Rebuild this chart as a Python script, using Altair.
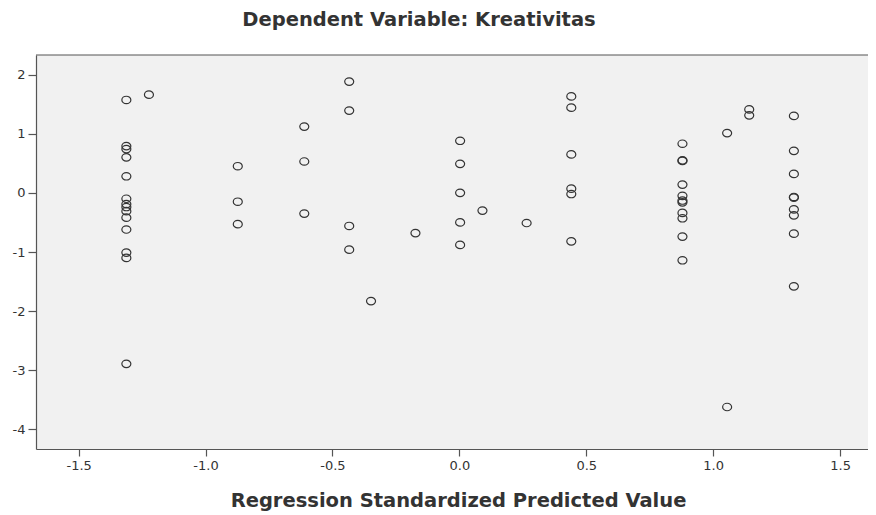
import altair as alt
import pandas as pd

# Regression standardized predicted values (x positions of the point columns)
pred_levels = [-1.312, -1.223, -0.873, -0.611, -0.434, -0.348, -0.173,
               0.003, 0.091, 0.265, 0.441, 0.879, 1.055, 1.142, 1.318]

# Regression studentized residuals found at each predicted value
resid_by_level = [
    [1.57, 0.79, 0.74, 0.60, 0.28, -0.10, -0.19, -0.24, -0.31, -0.42, -0.62, -1.01, -1.10, -2.89],
    [1.66],
    [0.45, -0.15, -0.53],
    [1.12, 0.53, -0.35],
    [1.88, 1.39, -0.56, -0.96],
    [-1.83],
    [-0.68],
    [0.88, 0.49, 0.00, -0.50, -0.88],
    [-0.30],
    [-0.51],
    [1.63, 1.44, 0.65, 0.07, -0.02, -0.82],
    [0.83, 0.55, 0.54, 0.14, -0.05, -0.13, -0.16, -0.34, -0.43, -0.74, -1.14],
    [1.01, -3.62],
    [1.41, 1.31],
    [1.30, 0.71, 0.32, -0.07, -0.08, -0.28, -0.38, -0.69, -1.58],
]

x_ticks = [-1.5, -1.0, -0.5, 0.0, 0.5, 1.0, 1.5]
y_ticks = [-4, -3, -2, -1, 0, 1, 2]

title_text = "Dependent Variable: Kreativitas"
x_title = "Regression Standardized Predicted Value"

rows = []
for p, rs in zip(pred_levels, resid_by_level):
    for r in rs:
        rows.append({"pred": p, "resid": r})
df = pd.DataFrame(rows)

FONT = "DejaVu Sans"
AX = "#555555"
TXT = "#333333"
W, H = 832, 394
ELLIPSE = "M -1 0 A 1 0.83 0 1 0 1 0 A 1 0.83 0 1 0 -1 0 Z"

fix_minus = "replace(datum.label, '\u2212', '-')"

points = alt.Chart(df).mark_point(
    shape=ELLIPSE, size=81, filled=False, color="#333333", strokeWidth=1.2, opacity=1
).encode(
    x=alt.X(
        "pred:Q",
        scale=alt.Scale(domain=[-1.668, 1.610], nice=False, zero=False),
        axis=alt.Axis(
            values=x_ticks, format=".1f", labelExpr=fix_minus,
            tickSize=7, tickColor=AX, tickWidth=1.2,
            domainColor=AX, domainWidth=1.2, grid=False,
            labelFont=FONT, labelFontSize=13, labelColor=TXT, labelPadding=3,
            title=x_title, titleFont=FONT, titleFontSize=19.5, titleFontWeight="bold",
            titleColor=TXT, titleBaseline="alphabetic", titleAlign="center",
            titleX=422, titleY=57,
        ),
    ),
    y=alt.Y(
        "resid:Q",
        scale=alt.Scale(domain=[-4.33, 2.33], nice=False, zero=False),
        axis=alt.Axis(
            values=y_ticks, format="d", labelExpr=fix_minus,
            tickSize=8, tickColor=AX, tickWidth=1.2,
            domainColor=AX, domainWidth=1.2, grid=False,
            labelFont=FONT, labelFontSize=13, labelColor=TXT, labelPadding=3,
            title="",
        ),
    ),
)

top_border = alt.Chart(pd.DataFrame({"k": [0]})).mark_rule(
    color=AX, strokeWidth=1.2
).encode(x=alt.value(0), x2=alt.value(W), y=alt.value(0))

chart = alt.layer(points, top_border).properties(
    width=W,
    height=H,
    padding={"left": 28, "top": 47, "right": 0, "bottom": 66},
    autosize=alt.AutoSizeParams(type="none"),
    title=alt.Title(
        title_text, font=FONT, fontSize=19.5, fontWeight="bold", color=TXT,
        anchor="middle", frame="group", dx=-33, offset=9, baseline="alphabetic",
    ),
).configure_view(stroke=None, fill="#F1F1F1")

chart.save("out.html", embed_options={"renderer": "svg", "actions": False})
